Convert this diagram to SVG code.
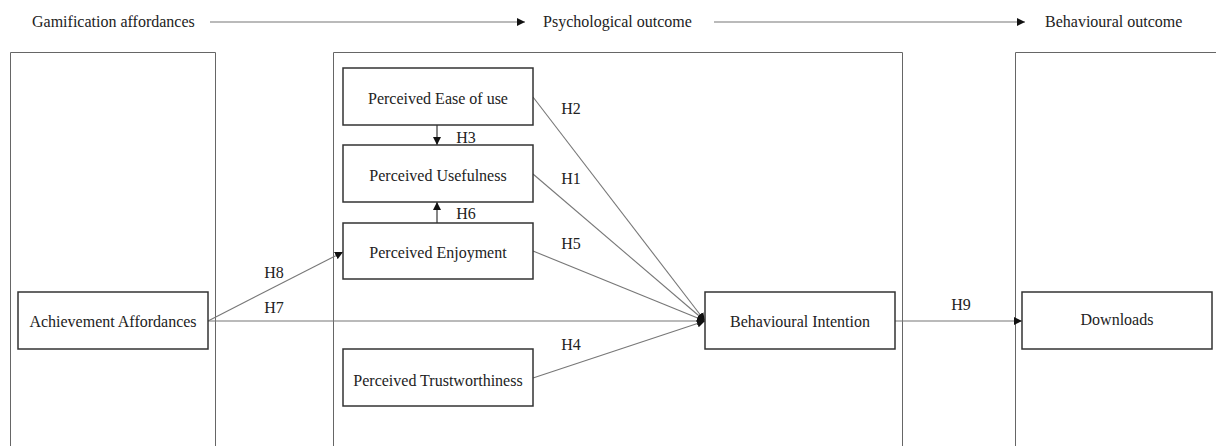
<svg xmlns="http://www.w3.org/2000/svg" width="1216" height="446" viewBox="0 0 1216 446">
<style>
text{font-family:"Liberation Serif","Times New Roman",serif;font-size:16px;fill:#222;}
.lbl{text-anchor:middle;}
.panel{fill:none;stroke:#666;stroke-width:1;}
.box{fill:#fff;stroke:#333;stroke-width:1.5;}
.conn{stroke:#777;stroke-width:1.1;fill:none;}
.dark{stroke:#222;stroke-width:1.1;fill:none;}
</style>
<defs>
<marker id="ah" viewBox="0 0 10 10" refX="10" refY="5" markerWidth="8" markerHeight="8" markerUnits="userSpaceOnUse" orient="auto">
<path d="M0,0 L10,5 L0,10 z" fill="#111"/>
</marker>
</defs>
<rect width="1216" height="446" fill="#fff"/>
<g id="header">
<text x="32" y="27">Gamification affordances</text>
<text x="543" y="27">Psychological outcome</text>
<text x="1045" y="27">Behavioural outcome</text>
</g>
<g id="panels">
<path class="panel" d="M10.5,446 V52.5 H215.5 V446"/>
<path class="panel" d="M333.5,446 V52.5 H902.5 V446"/>
<path class="panel" d="M1015.5,446 V52.5 H1216"/>
</g>
<g id="connectors">
<line class="conn" x1="210" y1="22" x2="525" y2="22" marker-end="url(#ah)"/>
<line class="conn" x1="714" y1="22" x2="1025" y2="22" marker-end="url(#ah)"/>
<line class="dark" x1="437" y1="125" x2="437" y2="145" marker-end="url(#ah)"/>
<line class="dark" x1="437" y1="223" x2="437" y2="202" marker-end="url(#ah)"/>
<line class="conn" x1="208" y1="321" x2="343" y2="252" marker-end="url(#ah)"/>
<line class="conn" x1="208" y1="321" x2="705" y2="321" marker-end="url(#ah)"/>
<line class="conn" x1="533" y1="97" x2="705" y2="321" marker-end="url(#ah)"/>
<line class="conn" x1="533" y1="174" x2="705" y2="321" marker-end="url(#ah)"/>
<line class="conn" x1="533" y1="251" x2="705" y2="321" marker-end="url(#ah)"/>
<line class="conn" x1="533" y1="378" x2="705" y2="321" marker-end="url(#ah)"/>
<line class="conn" x1="895" y1="321" x2="1022" y2="321" marker-end="url(#ah)"/>
<text x="274" y="278" class="lbl">H8</text>
<text x="274" y="313" class="lbl">H7</text>
<text x="466" y="143" class="lbl">H3</text>
<text x="466" y="219" class="lbl">H6</text>
<text x="571" y="114" class="lbl">H2</text>
<text x="571" y="184" class="lbl">H1</text>
<text x="571" y="249" class="lbl">H5</text>
<text x="571" y="350" class="lbl">H4</text>
<text x="961" y="310" class="lbl">H9</text>
</g>
<g id="n-achievement">
<rect class="box" x="18" y="292" width="190" height="57"/>
<text x="113" y="327" class="lbl">Achievement Affordances</text>
</g>
<g id="n-ease">
<rect class="box" x="343" y="68" width="190" height="57"/>
<text x="438" y="104" class="lbl">Perceived Ease of use</text>
</g>
<g id="n-usefulness">
<rect class="box" x="343" y="145" width="190" height="57"/>
<text x="438" y="181" class="lbl">Perceived Usefulness</text>
</g>
<g id="n-enjoyment">
<rect class="box" x="343" y="223" width="190" height="56"/>
<text x="438" y="258" class="lbl">Perceived Enjoyment</text>
</g>
<g id="n-trust">
<rect class="box" x="343" y="349" width="190" height="57"/>
<text x="438" y="386" class="lbl">Perceived Trustworthiness</text>
</g>
<g id="n-intention">
<rect class="box" x="705" y="292" width="190" height="57"/>
<text x="800" y="327" class="lbl">Behavioural Intention</text>
</g>
<g id="n-downloads">
<rect class="box" x="1022" y="292" width="190" height="57"/>
<text x="1117" y="325" class="lbl">Downloads</text>
</g>
</svg>
